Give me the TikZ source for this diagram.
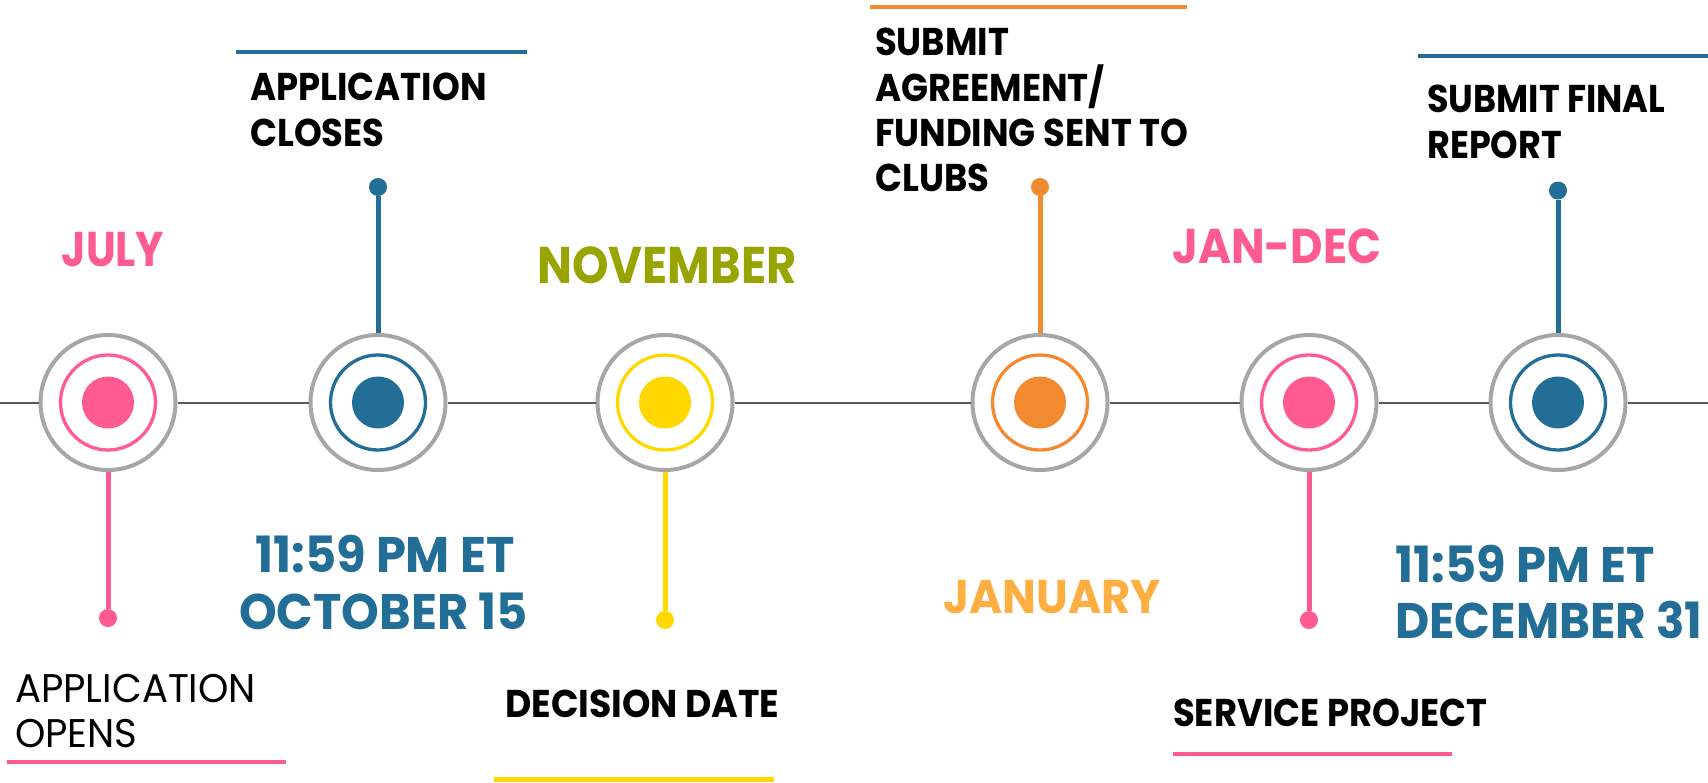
\documentclass[tikz,border=0pt]{standalone}
\usepackage{fontspec}
\setmainfont{Poppins}[FakeStretch=0.915]
\newfontfamily\fjuly{Poppins}[FakeStretch=0.865]
\newfontfamily\fnov{Poppins}[FakeStretch=0.90]
\newfontfamily\fjandec{Poppins}[FakeStretch=0.915]
\newfontfamily\fjan{Poppins}[FakeStretch=0.95]
\newfontfamily\fdate{Poppins}[FakeStretch=0.96]
\newfontfamily\fdatedec{Poppins}[FakeStretch=0.94]
\newfontfamily\freg{Poppins}[FakeStretch=0.966]
\newfontfamily\fdec{Poppins}[FakeStretch=0.905]
\newfontfamily\fdd{Poppins}[FakeStretch=0.935]
\definecolor{cpink}{HTML}{FF5B8F}
\definecolor{cblue}{HTML}{236E96}
\definecolor{cyellow}{HTML}{FFD800}
\definecolor{corange}{HTML}{F28A30}
\definecolor{colive}{HTML}{98A500}
\definecolor{clorange}{HTML}{FFAE42}
\definecolor{cring}{HTML}{A6A6A6}
\definecolor{cline}{HTML}{595959}
\tikzset{
  ring/.style={circle, draw=cring, line width=4pt, fill=white, minimum size=135pt, inner sep=0pt},
  enddot/.style={circle, fill=#1, minimum size=18pt, inner sep=0pt},
  stem/.style={draw=#1, line width=5pt},
  hline/.style={draw=cline, line width=2pt},
  deco/.style={draw=#1, line width=4pt},
  lab/.style={inner sep=0pt, anchor=base west, font=\bfseries\fontsize{38.7}{45}\selectfont},
  labdd/.style={inner sep=0pt, anchor=base west, font=\fdec\bfseries\fontsize{38.7}{45}\selectfont},
  reglab/.style={inner sep=0pt, anchor=base west, font=\freg\fontsize{40}{45}\selectfont},
  datel/.style={inner sep=0pt, text=cblue, font=\fdate\bfseries\fontsize{50}{57}\selectfont},
  month/.style={inner sep=0pt, anchor=base}
}
\newcommand{\target}[2]{%
  \draw[draw=#2, line width=3.3pt] (#1.center) circle[radius=47.5pt];
  \fill[#2] (#1.center) circle[radius=26pt];}
\begin{document}
\begin{tikzpicture}[x=1pt,y=-1pt]
\useasboundingbox (0,0) rectangle (1708,782);
\fill[white] (0,0) rectangle (1708,782);
\coordinate (L) at (0,402.5);
\coordinate (R) at (1708,402.5);
\node[enddot=cpink] (d1) at (108,618) {};
\node[enddot=cblue] (d2) at (378,187) {};
\node[enddot=cyellow] (d3) at (665,620) {};
\node[enddot=corange] (d4) at (1040,187) {};
\node[enddot=cpink] (d5) at (1309,620) {};
\node[enddot=cblue] (d6) at (1558,190.5) {};
\node[ring] (c1) at (108,402.5) {};
\node[ring] (c2) at (378,402.5) {};
\node[ring] (c3) at (665,402.5) {};
\node[ring] (c4) at (1040,402.5) {};
\node[ring] (c5) at (1309,402.5) {};
\node[ring] (c6) at (1558,402.5) {};
\target{c1}{cpink}
\target{c2}{cblue}
\target{c3}{cyellow}
\target{c4}{corange}
\target{c5}{cpink}
\target{c6}{cblue}
% timeline
\draw[hline] (L) -- (c1);
\draw[hline] (c1) -- (c2);
\draw[hline] (c2) -- (c3);
\draw[hline] (c3) -- (c4);
\draw[hline] (c4) -- (c5);
\draw[hline] (c5) -- (c6);
\draw[hline] (c6) -- (R);
% stems
\draw[stem=cpink] (c1) -- (d1);
\draw[stem=cblue] (c2) -- (d2);
\draw[stem=cyellow] (c3) -- (d3);
\draw[stem=corange] (c4) -- (d4);
\draw[stem=cpink] (c5) -- (d5);
\draw[stem=cblue] (c6) -- (d6);
% decorative bars
\draw[deco=cblue] (236,52) -- (527,52);
\draw[deco=cpink] (6.5,762) -- (286,762);
\draw[deco=cyellow, line width=5pt] (494,779.5) -- (774,779.5);
\draw[deco=corange] (870,7) -- (1187,7);
\draw[deco=cpink] (1172.5,754) -- (1452,754);
\draw[deco=cblue] (1418,56) -- (1708,56);
% months
\node[month, text=cpink, font=\fjuly\bfseries\fontsize{48.8}{55}\selectfont] (july) at (113,266) {JULY};
\node[month, text=colive, font=\fnov\bfseries\fontsize{51.6}{58}\selectfont] (nov) at (667,283) {NOVEMBER};
\node[month, text=clorange, font=\fjan\bfseries\fontsize{47.3}{54}\selectfont] (jan) at (1052,613) {JANUARY};
\node[month, text=cpink, font=\fjandec\bfseries\fontsize{48.8}{55}\selectfont] (jandec) at (1277,263) {JAN-DEC};
% labels
\node[lab] (ac1) at (250,100) {APPLICATION};
\node[lab] (ac2) at (250,146) {CLOSES};
\node[reglab] (ao1) at (15,702) {APPLICATION};
\node[reglab] (ao2) at (15,747) {OPENS};
\node[datel, anchor=base] (t1) at (385,572) {11:59 PM ET};
\node[datel, anchor=base] (t2) at (383.5,629) {OCTOBER 15};
\node[labdd, font=\fdd\bfseries\fontsize{38.7}{45}\selectfont] (dd) at (505,717) {DECISION DATE};
\node[lab] (sa1) at (875,55) {SUBMIT};
\node[lab] (sa2) at (875,101) {AGREEMENT/};
\node[lab] (sa3) at (875,146) {FUNDING SENT TO};
\node[lab] (sa4) at (875,191) {CLUBS};
\node[lab] (sp) at (1173,726) {SERVICE PROJECT};
\node[labdd] (sf1) at (1427,112) {SUBMIT FINAL};
\node[labdd] (sf2) at (1427,158) {REPORT};
\node[datel, anchor=base west] (t3) at (1395.5,582) {11:59 PM ET};
\node[datel, anchor=base west, font=\fdatedec\bfseries\fontsize{50}{57}\selectfont] (t4) at (1395,638) {DECEMBER 31};
\end{tikzpicture}
\end{document}
